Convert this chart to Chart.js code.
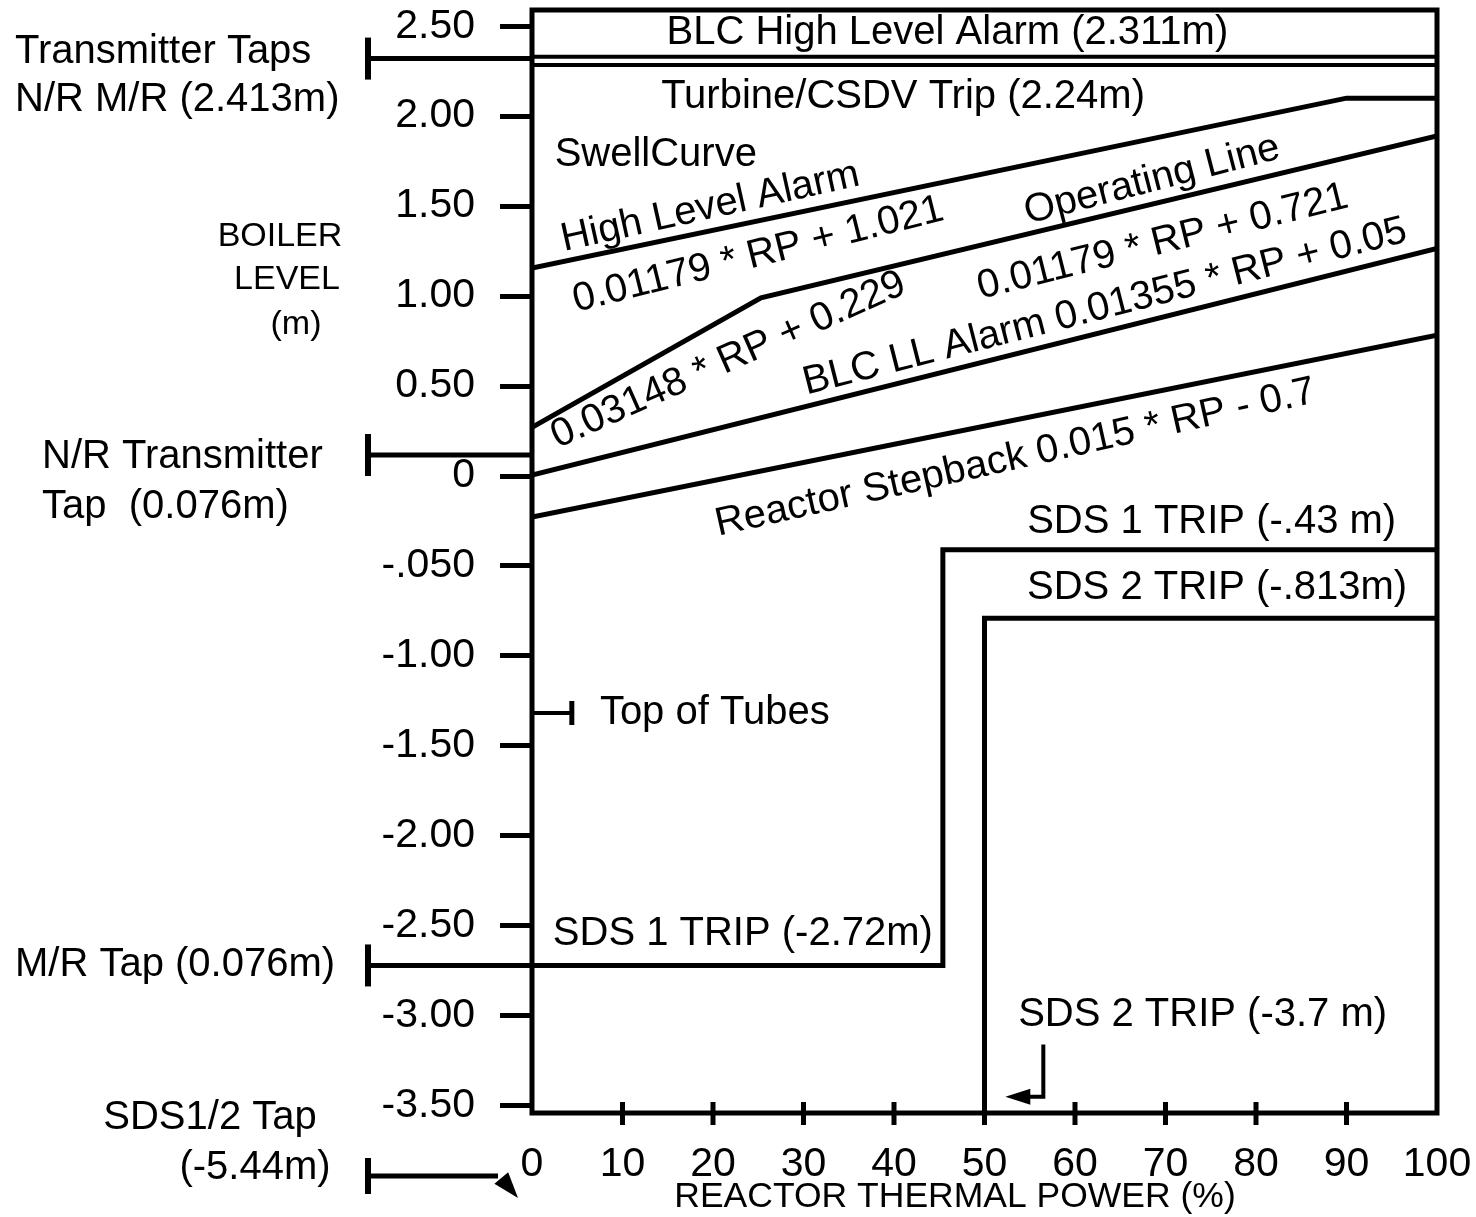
<!DOCTYPE html>
<html><head><meta charset="utf-8">
<script src="https://cdn.jsdelivr.net/npm/chart.js@4.4.1/dist/chart.umd.min.js"></script>
<style>html,body{margin:0;padding:0;background:#fff}#wrap{width:1476px;height:1217px}</style>
</head><body><div id="wrap"><canvas id="c"></canvas></div>
<script>
var F='"Liberation Sans", Arial, sans-serif';

// valores (x = % potencia, y = nivel en m)
var yTicks=[-3.5,-3,-2.5,-2,-1.5,-1,-0.5,0,0.5,1,1.5,2,2.5];
var yTickLabels=['-3.50','-3.00','-2.50','-2.00','-1.50','-1.00','-.050','0','0.50','1.00','1.50','2.00','2.50'];
var xTickMarks=[10,20,30,40,50,60,70,80,90];
var blcHighX=[0,100], blcHighY=[2.33,2.33];
var turbX=[0,100], turbY=[2.285,2.285];
var swellX=[0,90,100], swellY=[1.156,2.10,2.10];
var opX=[0,25.3,100], opY=[0.27,0.99,1.89];
var llX=[0,100], llY=[0.005,1.265];
var stepX=[0,100], stepY=[-0.228,0.783];
var sds1X=[0,45.4,45.4,100], sds1Y=[-2.72,-2.72,-0.41,-0.41];
var sds2X=[50,50,100], sds2Y=[-3.54,-0.79,-0.79];
var tapLevels=[2.32,0.117,-2.72];
var tubesLevel=-1.317, tubesX=4.4;
var sdsTapLevel=-3.89;
var sds2ArrowX=[56.5,56.5,52.3], sds2ArrowY=[-3.16,-3.45,-3.45];

// textos dentro del grafico: texto, x, y, angulo, alineacion
var inLabels=[
 ['BLC High Level Alarm (2.311m)',45.9,2.46,0,'center'],
 ['Turbine/CSDV Trip (2.24m)',41.0,2.106,0,'center'],
 ['SwellCurve',2.5,1.783,0,'left'],
 ['High Level Alarm',19.7,1.494,-12.5,'center'],
 ['0.01179 * RP + 1.021',25.0,1.228,-14,'center'],
 ['Operating Line',68.5,1.644,-14.5,'center'],
 ['0.01179 * RP + 0.721',69.7,1.30,-14,'center'],
 ['0.03148 * RP + 0.229',21.7,0.644,-24,'center'],
 ['BLC LL Alarm 0.01355 * RP + 0.05',63.3,0.939,-14.3,'center'],
 ['Reactor Stepback 0.015 * RP - 0.7',53.4,0.10,-12.6,'center'],
 ['SDS 1 TRIP (-.43 m)',75.1,-0.256,0,'center'],
 ['SDS 2 TRIP (-.813m)',75.7,-0.622,0,'center'],
 ['Top of Tubes',7.5,-1.317,0,'left'],
 ['SDS 1 TRIP (-2.72m)',23.3,-2.544,0,'center'],
 ['SDS 2 TRIP (-3.7 m)',74.1,-2.994,0,'center']
];
// textos fuera del area
var outLabels=[
 ['Transmitter Taps',15,52,'left',40],
 ['N/R M/R (2.413m)',15,100,'left',40],
 ['BOILER',280,237,'center',34],
 ['LEVEL',287,280,'center',34],
 ['(m)',296,325,'center',34],
 ['N/R Transmitter',42,457,'left',40],
 ['Tap  (0.076m)',42,507,'left',40],
 ['M/R Tap (0.076m)',15,965,'left',40],
 ['SDS1/2 Tap',210,1118,'center',40],
 ['(-5.44m)',255,1168,'center',40],
 ['REACTOR THERMAL POWER (%)',955,1197,'center',35.5]
];

function pts(xs,ys){var r=[];for(var i=0;i<xs.length;i++)r.push({x:xs[i],y:ys[i]});return r;}
function ds(xs,ys,w){return {data:pts(xs,ys),showLine:true,borderColor:'#000',borderWidth:w||5,pointRadius:0,fill:false,tension:0};}
function noPad(s){s.paddingTop=0;s.paddingBottom=0;s.paddingLeft=0;s.paddingRight=0;}

var annot={id:'annot',afterDatasetsDraw:function(c){
    var ctx=c.ctx,a=c.chartArea,xs=c.scales.x,ys=c.scales.y;
    ctx.save();
    ctx.strokeStyle='#000';ctx.fillStyle='#000';ctx.lineCap='butt';
    // marco
    ctx.lineWidth=5;
    ctx.strokeRect(a.left,a.top,a.right-a.left,a.bottom-a.top);
    // marcas eje x
    for(var i=0;i<xTickMarks.length;i++){
        var px=xs.getPixelForValue(xTickMarks[i]);
        ctx.beginPath();ctx.moveTo(px,a.bottom-11);ctx.lineTo(px,a.bottom+12);ctx.stroke();
    }
    // tomas del transmisor (T a la izquierda)
    var x0=a.left-164;
    for(var i=0;i<tapLevels.length;i++){
        var py=ys.getPixelForValue(tapLevels[i]);
        ctx.lineWidth=5;
        ctx.beginPath();ctx.moveTo(x0,py);ctx.lineTo(a.left,py);ctx.stroke();
        ctx.lineWidth=6;
        ctx.beginPath();ctx.moveTo(x0,py-21);ctx.lineTo(x0,py+21);ctx.stroke();
    }
    // SDS1/2 tap con flecha
    var py=ys.getPixelForValue(sdsTapLevel);
    ctx.beginPath();ctx.moveTo(x0,py-18);ctx.lineTo(x0,py+18);ctx.stroke();
    ctx.lineWidth=5;
    ctx.beginPath();ctx.moveTo(x0,py);ctx.lineTo(a.left-34,py);ctx.stroke();
    ctx.save();ctx.translate(a.left-14,py+22);ctx.rotate(50*Math.PI/180);
    ctx.beginPath();ctx.moveTo(0,0);ctx.lineTo(-26,-9);ctx.lineTo(-26,9);ctx.closePath();ctx.fill();
    ctx.restore();
    // top of tubes
    var ty=ys.getPixelForValue(tubesLevel),tx=xs.getPixelForValue(tubesX);
    ctx.lineWidth=4;
    ctx.beginPath();ctx.moveTo(a.left,ty);ctx.lineTo(tx,ty);ctx.stroke();
    ctx.lineWidth=5;
    ctx.beginPath();ctx.moveTo(tx,ty-12);ctx.lineTo(tx,ty+12);ctx.stroke();
    // flecha SDS 2 (-3.7 m)
    ctx.lineWidth=4;
    ctx.beginPath();
    ctx.moveTo(xs.getPixelForValue(sds2ArrowX[0]),ys.getPixelForValue(sds2ArrowY[0]));
    ctx.lineTo(xs.getPixelForValue(sds2ArrowX[1]),ys.getPixelForValue(sds2ArrowY[1]));
    ctx.lineTo(xs.getPixelForValue(sds2ArrowX[2])+22,ys.getPixelForValue(sds2ArrowY[2]));
    ctx.stroke();
    var hx=xs.getPixelForValue(sds2ArrowX[2]),hy=ys.getPixelForValue(sds2ArrowY[2]);
    ctx.beginPath();ctx.moveTo(hx,hy);ctx.lineTo(hx+25,hy-8);ctx.lineTo(hx+25,hy+8);ctx.closePath();ctx.fill();
    // textos
    ctx.textBaseline='middle';
    ctx.font='40px '+F;
    for(var i=0;i<inLabels.length;i++){
        var L=inLabels[i];
        ctx.save();
        ctx.translate(xs.getPixelForValue(L[1]),ys.getPixelForValue(L[2]));
        ctx.rotate(L[3]*Math.PI/180);
        ctx.textAlign=L[4];
        ctx.fillText(L[0],0,0);
        ctx.restore();
    }
    for(var i=0;i<outLabels.length;i++){
        var L=outLabels[i];
        ctx.font=L[4]+'px '+F;ctx.textAlign=L[3];
        ctx.fillText(L[0],L[1],L[2]);
    }
    ctx.restore();
}};

new Chart(document.getElementById('c'),{
    type:'scatter',
    data:{datasets:[
        ds(blcHighX,blcHighY,4),ds(turbX,turbY,4),ds(swellX,swellY),ds(opX,opY),
        ds(llX,llY),ds(stepX,stepY),ds(sds1X,sds1Y),ds(sds2X,sds2Y)
    ]},
    options:{
        responsive:true,maintainAspectRatio:false,animation:false,
        layout:{padding:{left:0,right:39,top:10,bottom:0}},
        plugins:{legend:{display:false},tooltip:{enabled:false}},
        scales:{
            x:{type:'linear',min:0,max:100,
                afterFit:function(s){s.height=104;noPad(s);},
                grid:{display:false,drawTicks:false},border:{display:false},
                ticks:{stepSize:10,autoSkip:false,maxRotation:0,padding:27,color:'#000',font:{family:F,size:41}}},
            y:{type:'linear',min:-3.54,max:2.59,
                afterFit:function(s){s.width=532;noPad(s);},
                afterBuildTicks:function(s){s.ticks=yTicks.map(function(v){return {value:v};});},
                grid:{drawOnChartArea:false,drawTicks:true,tickLength:32,tickWidth:5,tickColor:'#000'},
                border:{display:false},
                ticks:{autoSkip:false,padding:25,color:'#000',font:{family:F,size:41},
                    callback:function(v){var k=yTicks.indexOf(v);return k>=0?yTickLabels[k]:'';}}}
        }
    },
    plugins:[annot]
});
</script>
</body></html>
